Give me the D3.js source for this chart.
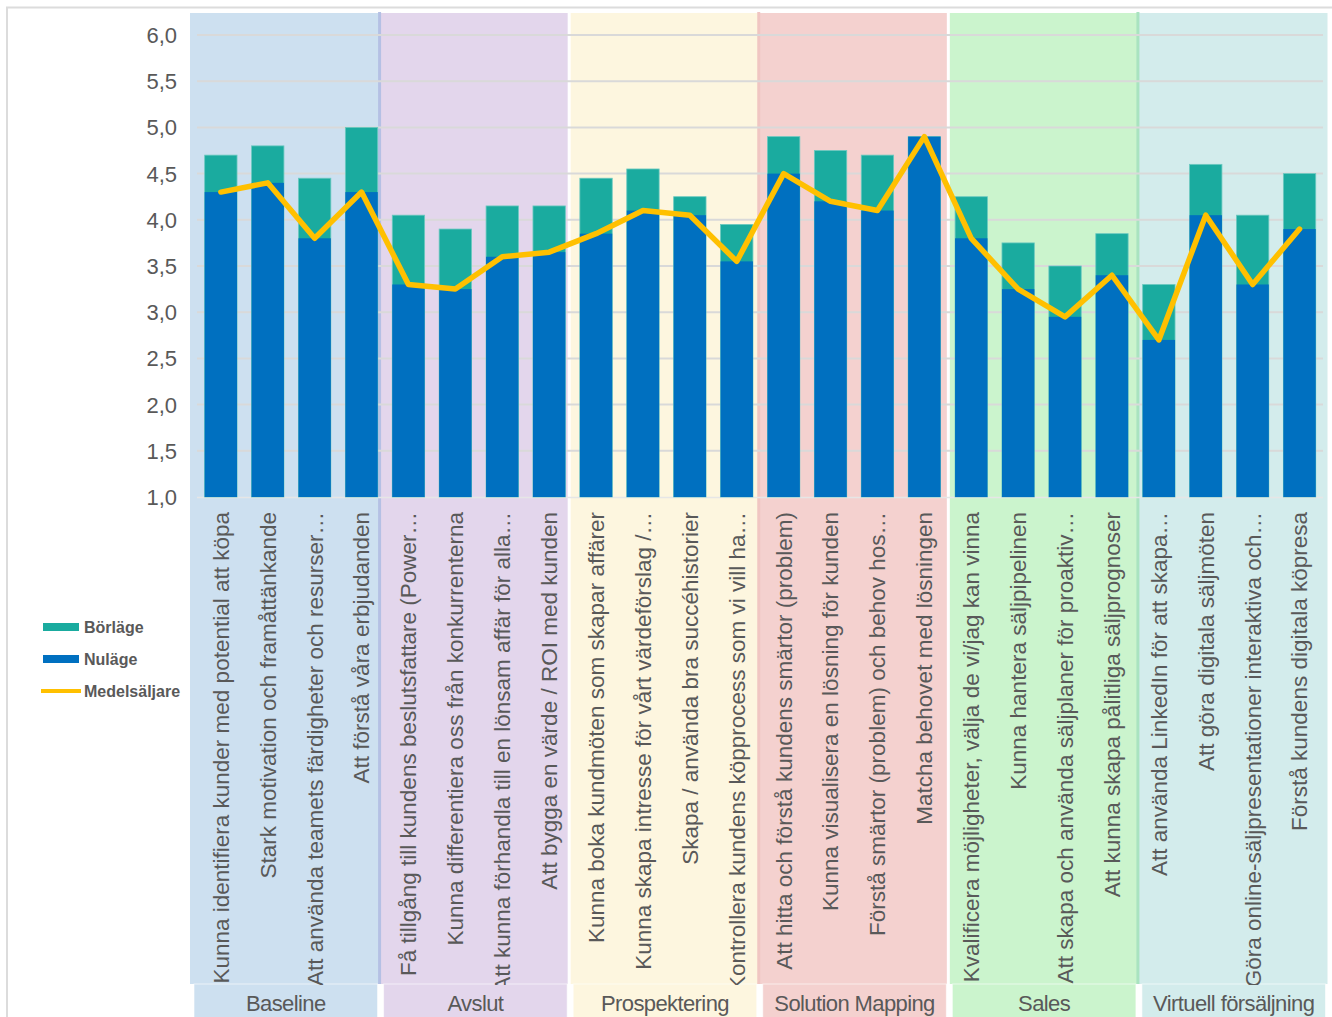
<!DOCTYPE html>
<html>
<head>
<meta charset="utf-8">
<script src="https://cdn.jsdelivr.net/npm/d3@7"></script>
<style>
  html, body { margin: 0; padding: 0; background: #ffffff; }
  svg { display: block; font-family: "Liberation Sans", Arial, sans-serif; }
</style>
</head>
<body>
<svg id="chart" width="1332" height="1017"></svg>
<script>
// ---------------- DATA ----------------
const groups = ["Baseline", "Avslut", "Prospektering", "Solution Mapping", "Sales", "Virtuell försäljning"];

const categories = [
  "Kunna identifiera kunder med potential att köpa",
  "Stark motivation och framåttänkande",
  "Att använda teamets färdigheter och resurser…",
  "Att förstå våra erbjudanden",
  "Få tillgång till kundens beslutsfattare (Power…",
  "Kunna differentiera oss från konkurrenterna",
  "Att kunna förhandla till en lönsam affär för alla…",
  "Att bygga en värde / ROI med kunden",
  "Kunna boka kundmöten som skapar affärer",
  "Kunna skapa intresse för vårt värdeförslag /…",
  "Skapa / använda bra succéhistorier",
  "Kontrollera kundens köpprocess som vi vill ha…",
  "Att hitta och förstå kundens smärtor (problem)",
  "Kunna visualisera en lösning för kunden",
  "Förstå smärtor (problem) och behov hos…",
  "Matcha behovet med lösningen",
  "Kvalificera möjligheter, välja de vi/jag kan vinna",
  "Kunna hantera säljpipelinen",
  "Att skapa och använda säljplaner för proaktiv…",
  "Att kunna skapa pålitliga säljprognoser",
  "Att använda LinkedIn för att skapa…",
  "Att göra digitala säljmöten",
  "Göra online-säljpresentationer interaktiva och…",
  "Förstå kundens digitala köpresa"
];

const categoryGroup = [0,0,0,0, 1,1,1,1, 2,2,2,2, 3,3,3,3, 4,4,4,4, 5,5,5,5];

const borlage = [4.70, 4.80, 4.45, 5.00,  4.05, 3.90, 4.15, 4.15,  4.45, 4.55, 4.25, 3.95,
                 4.90, 4.75, 4.70, 4.90,  4.25, 3.75, 3.50, 3.85,  3.30, 4.60, 4.05, 4.50];
const nulage  = [4.30, 4.40, 3.80, 4.30,  3.30, 3.25, 3.60, 3.65,  3.85, 4.10, 4.05, 3.55,
                 4.50, 4.20, 4.10, 4.90,  3.80, 3.25, 2.95, 3.40,  2.70, 4.05, 3.30, 3.90];
const medelsaljare = [4.30, 4.40, 3.80, 4.30,  3.30, 3.25, 3.60, 3.65,  3.85, 4.10, 4.05, 3.55,
                      4.50, 4.20, 4.10, 4.90,  3.80, 3.25, 2.95, 3.40,  2.70, 4.05, 3.30, 3.90];

const yTicks = [1.0, 1.5, 2.0, 2.5, 3.0, 3.5, 4.0, 4.5, 5.0, 5.5, 6.0];
const seriesNames = ["Börläge", "Nuläge", "Medelsäljare"];

// ---------------- STYLE ----------------
const bandColors = ["#cde0f0", "#e3d6ec", "#fdf6df", "#f4d1cf", "#cbf4cd", "#d3ecec"];
const sepColors  = ["#b5c0e4", "#ffffff", "#f0c6c2", "#ffffff", "#a9e3c0"];
const cBor = "#1aab9f", cNu = "#0070c0", cMed = "#ffc000";
const textGray = "#595959";

const svg = d3.select("#chart");

// Outer frame
svg.append("rect").attr("x", 7).attr("y", 7.5).attr("width", 1340).attr("height", 1040)
  .attr("fill", "#ffffff").attr("stroke", "#dcdcdc").attr("stroke-width", 2);

// Scales
const x = d3.scaleBand().domain(d3.range(categories.length)).range([197.4, 1323])
  .paddingInner(0.31).paddingOuter(0.155);
const g = d3.scaleBand().domain(d3.range(groups.length)).range([190, 1327.5]);
const y = d3.scaleLinear().domain([1, 6]).range([497, 35]);

// Background bands (upper)
svg.append("g").selectAll("rect").data(groups).join("rect")
  .attr("x", (d, i) => g(i)).attr("y", 13)
  .attr("width", g.bandwidth()).attr("height", 984 - 13)
  .attr("fill", (d, i) => bandColors[i]);

// Bottom strip with group labels
const strip = svg.append("g");
strip.selectAll("rect").data(groups).join("rect")
  .attr("x", (d, i) => g(i) + 4).attr("y", 984)
  .attr("width", g.bandwidth() - 6).attr("height", 40)
  .attr("fill", (d, i) => bandColors[i])
  .attr("stroke", "#ffffff").attr("stroke-opacity", 0.6).attr("stroke-width", 1);

// Separators
svg.append("g").selectAll("rect").data(sepColors).join("rect")
  .attr("x", (d, i) => g(i + 1) - 1.5).attr("y", 12)
  .attr("width", 3).attr("height", 972)
  .attr("fill", d => d);

// Gridlines
svg.append("g").selectAll("line").data(yTicks.filter(t => t > 1)).join("line")
  .attr("x1", 197).attr("x2", 1323)
  .attr("y1", d => y(d)).attr("y2", d => y(d))
  .attr("stroke", "#d9d9d9").attr("stroke-width", 2);

// Category axis frame line
svg.append("line").attr("x1", 197).attr("x2", 1323).attr("y1", y(1) + 0.5).attr("y2", y(1) + 0.5)
  .attr("stroke", "#e6e6e6").attr("stroke-width", 1.5);

// Y axis labels
const fmt = v => d3.format(".1f")(v).replace(".", ",");
svg.append("g").selectAll("text").data(yTicks).join("text")
  .attr("x", 177).attr("y", d => y(d)).attr("dy", "0.36em")
  .attr("text-anchor", "end").attr("font-size", 22).attr("fill", textGray)
  .text(d => fmt(d));

// Bars
const bars = svg.append("g");
bars.selectAll("rect.bor").data(borlage).join("rect").attr("class", "bor")
  .attr("x", (d, i) => x(i)).attr("width", x.bandwidth())
  .attr("y", d => y(d)).attr("height", d => y(1) - y(d))
  .attr("fill", cBor).attr("stroke", "#6cc9c0").attr("stroke-width", 0.8);
bars.selectAll("rect.nu").data(nulage).join("rect").attr("class", "nu")
  .attr("x", (d, i) => x(i)).attr("width", x.bandwidth())
  .attr("y", d => y(d)).attr("height", d => y(1) - y(d))
  .attr("fill", cNu);

// Line
const line = d3.line().x((d, i) => x(i) + x.bandwidth() / 2).y(d => y(d));
svg.append("path").datum(medelsaljare)
  .attr("d", line).attr("fill", "none").attr("stroke", cMed)
  .attr("stroke-width", 5.5).attr("stroke-linejoin", "round").attr("stroke-linecap", "round");

// Category labels (rotated, clipped)
svg.append("clipPath").attr("id", "labclip").append("rect")
  .attr("x", 190).attr("y", 498).attr("width", 1140).attr("height", 985 - 498);
svg.append("g").attr("clip-path", "url(#labclip)")
  .selectAll("text").data(categories).join("text")
  .attr("transform", (d, i) => `translate(${x(i) + x.bandwidth() / 2},512) rotate(-90)`)
  .attr("text-anchor", "end").attr("dy", "0.35em")
  .attr("font-size", 22.5).attr("fill", textGray)
  .text(d => d);

// Group labels
strip.selectAll("text").data(groups).join("text")
  .attr("x", (d, i) => g(i) + g.bandwidth() / 2 + 1).attr("y", 1011)
  .attr("text-anchor", "middle").attr("font-size", 22).attr("fill", textGray)
  .attr("letter-spacing", -0.6)
  .text(d => d);

// Legend
const legend = svg.append("g");
const ly = [627, 659, 691];
legend.append("rect").attr("x", 43).attr("y", ly[0] - 4).attr("width", 36).attr("height", 8).attr("fill", cBor);
legend.append("rect").attr("x", 43).attr("y", ly[1] - 4).attr("width", 36).attr("height", 8).attr("fill", cNu);
legend.append("line").attr("x1", 41).attr("x2", 81).attr("y1", ly[2]).attr("y2", ly[2])
  .attr("stroke", cMed).attr("stroke-width", 4);
legend.selectAll("text").data(seriesNames).join("text")
  .attr("x", 84).attr("y", (d, i) => ly[i]).attr("dy", "0.36em")
  .attr("font-size", 16).attr("font-weight", "bold").attr("fill", textGray)
  .text(d => d);
</script>
</body>
</html>
